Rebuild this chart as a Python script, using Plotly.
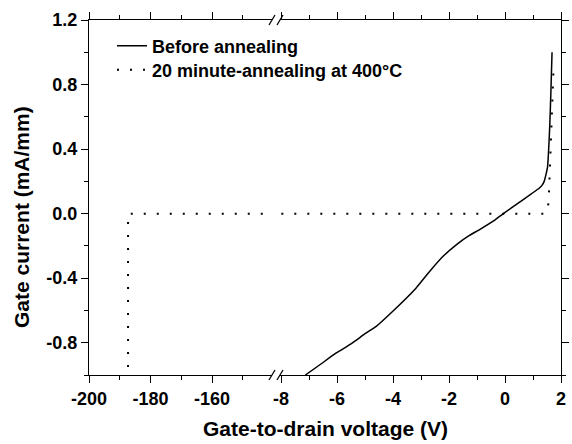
import plotly.graph_objects as go

# Before annealing (solid)
v_before = [-7.13, -6.6, -6.04, -5.50, -4.97, -4.61, -3.96, -3.18, -2.70, -2.22, -1.72, -1.27, -0.92,
            -0.38, -0.06, 0.51, 1.22, 1.32, 1.40, 1.46, 1.52, 1.56, 1.60, 1.64, 1.68]
i_before = [-1.0, -0.935, -0.865, -0.807, -0.741, -0.700, -0.597, -0.462, -0.36, -0.266, -0.19, -0.135,
            -0.100, -0.042, 0.0, 0.07, 0.157, 0.175, 0.200, 0.24, 0.29, 0.40, 0.55, 0.76, 1.0]

# 20 minute-annealing at 400 C (dotted)
v_after = [-187.3, -187.3, 1.45, 1.52, 1.56, 1.58, 1.63, 1.66, 1.70, 1.74]
i_after = [-0.95, 0.0, 0.0, 0.03, 0.074, 0.167, 0.33, 0.50, 0.67, 0.93]

y_tickvals = [-0.8, -0.4, 0.0, 0.4, 0.8, 1.2]
y_ticktext = ["-0.8", "-0.4", "0.0", "0.4", "0.8", "1.2"]
y_minor = [-1.0, -0.6, -0.2, 0.2, 0.6, 1.0]
xl_tickvals = [-200, -180, -160]
xl_ticktext = ["-200", "-180", "-160"]
xl_minor = [-190, -170, -150]
xr_tickvals = [-8, -6, -4, -2, 0, 2]
xr_ticktext = ["-8", "-6", "-4", "-2", "0", "2"]
xr_minor = [-7, -5, -3, -1, 1]

FONT = "Arial, Liberation Sans, sans-serif"
W, H = 572, 444
ML, MR, MT, MB = 89, 11, 20, 69
PW = W - ML - MR
PH = H - MT - MB
brk_l, brk_r = 272, 280
dl = (brk_l - ML) / PW
dr = (brk_r - ML) / PW
left_ppu = 3.075
right_ppu = 28.0
xl_range = [-200, -200 + (brk_l - ML) / left_ppu]
xr_range = [2 - (W - MR - brk_r) / right_ppu, 2]

fig = go.Figure()
fig.add_trace(go.Scatter(x=v_before, y=i_before, mode="lines", name="Before annealing",
                         line=dict(color="black", width=1.5, shape="spline", smoothing=0.5),
                         xaxis="x2", yaxis="y2", legend="legend"))
fig.add_trace(go.Scatter(x=v_after, y=i_after, mode="lines", name="20 minute-annealing at 400\u00b0C",
                         line=dict(color="black", width=2, dash="2px,11px"), xaxis="x2", yaxis="y2",
                         legend="legend2"))
fig.add_trace(go.Scatter(x=v_after, y=i_after, mode="lines", showlegend=False,
                         line=dict(color="black", width=2, dash="2px,11px"), xaxis="x", yaxis="y"))

axis_common = dict(showline=True, linecolor="black", linewidth=1.3, ticks="outside",
                   ticklen=7, tickwidth=1.3, tickcolor="black", showgrid=False, zeroline=False,
                   automargin=False,
                   tickfont=dict(family=FONT, size=18, color="black", weight="bold"))
minor_common = dict(ticks="outside", ticklen=4, tickwidth=1.3, tickcolor="black", showgrid=False)
legend_common = dict(xanchor="left", yanchor="middle", bgcolor="rgba(0,0,0,0)",
                     font=dict(family=FONT, size=18, color="black", weight="bold"))

fig.update_layout(
    width=W, height=H, margin=dict(l=ML, r=MR, t=MT, b=MB, autoexpand=False), autosize=False,
    plot_bgcolor="white", paper_bgcolor="white",
    xaxis=dict(domain=[0, dl], range=xl_range, anchor="y", mirror="allticks",
               tickmode="array", tickvals=xl_tickvals, ticktext=xl_ticktext,
               minor=dict(tickmode="array", tickvals=xl_minor, **minor_common), **axis_common),
    xaxis2=dict(domain=[dr, 1], range=xr_range, anchor="y2", mirror="allticks",
                tickmode="array", tickvals=xr_tickvals, ticktext=xr_ticktext,
                minor=dict(tickmode="array", tickvals=xr_minor, **minor_common), **axis_common),
    yaxis=dict(domain=[0, 1], range=[-1.0, 1.2], anchor="x", side="left",
               tickmode="array", tickvals=y_tickvals, ticktext=y_ticktext,
               minor=dict(tickmode="array", tickvals=y_minor, **minor_common), **axis_common),
    yaxis2=dict(domain=[0, 1], range=[-1.0, 1.2], anchor="x2", side="right", matches="y",
                tickmode="array", tickvals=y_tickvals, ticktext=y_ticktext, showticklabels=False,
                minor=dict(tickmode="array", tickvals=y_minor, **minor_common), **axis_common),
    showlegend=True,
    legend=dict(x=(112 - ML) / PW, y=(H - MB - 46) / PH, **legend_common),
    legend2=dict(x=(112 - ML) / PW, y=(H - MB - 70) / PH, **legend_common),
    annotations=[
        dict(text="Gate-to-drain voltage (V)", xref="paper", yref="paper", x=(325 - ML) / PW,
             y=(H - MB - 428) / PH, xanchor="center", yanchor="middle", showarrow=False,
             font=dict(family=FONT, size=21, color="black", weight="bold")),
        dict(text="Gate current (mA/mm)", xref="paper", yref="paper", x=(22 - ML) / PW,
             y=(H - MB - 217) / PH, xanchor="center", yanchor="middle", showarrow=False,
             textangle=-90, font=dict(family=FONT, size=21, color="black", weight="bold")),
    ],
)

shapes = []
for ya in (0, 1):
    for xa in (dl, dr):
        shapes.append(dict(type="line", xref="paper", yref="paper", xsizemode="pixel",
                           ysizemode="pixel", xanchor=xa, yanchor=ya, x0=-3, x1=3, y0=-5, y1=5,
                           line=dict(color="black", width=1.3)))
fig.update_layout(shapes=shapes)

fig.write_html("out.html", config={"responsive": False, "displayModeBar": False},
               post_script="document.body.style.margin='0';")
